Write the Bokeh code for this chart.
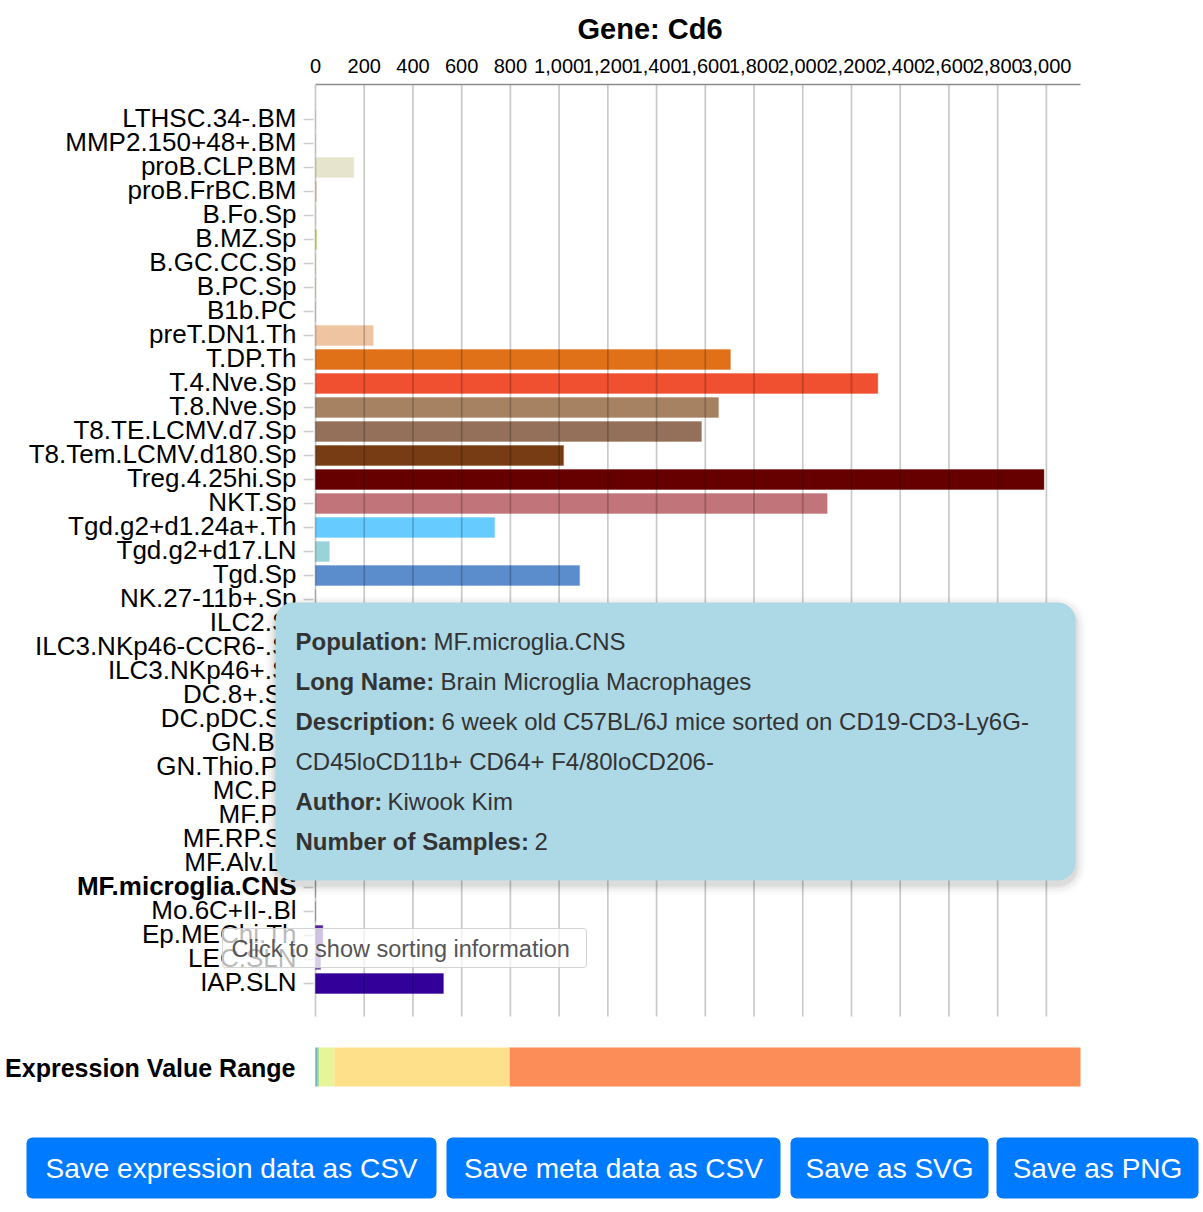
from bokeh.plotting import figure
from bokeh.models import (Range1d, FixedTicker, NumeralTickFormatter, BoxAnnotation,
                          Label, ColumnDataSource)
from bokeh.core.properties import value
from bokeh.embed import file_html
from bokeh.resources import INLINE

# ---------------- data ----------------
gene = "Cd6"
populations = [
    "LTHSC.34-.BM", "MMP2.150+48+.BM", "proB.CLP.BM", "proB.FrBC.BM", "B.Fo.Sp",
    "B.MZ.Sp", "B.GC.CC.Sp", "B.PC.Sp", "B1b.PC", "preT.DN1.Th", "T.DP.Th",
    "T.4.Nve.Sp", "T.8.Nve.Sp", "T8.TE.LCMV.d7.Sp", "T8.Tem.LCMV.d180.Sp",
    "Treg.4.25hi.Sp", "NKT.Sp", "Tgd.g2+d1.24a+.Th", "Tgd.g2+d17.LN", "Tgd.Sp",
    "NK.27-11b+.Sp", "ILC2.SI", "ILC3.NKp46-CCR6-.SI", "ILC3.NKp46+.SI", "DC.8+.Sp",
    "DC.pDC.Sp", "GN.BM", "GN.Thio.PC", "MC.PC", "MF.PC", "MF.RP.Sp", "MF.Alv.Lu",
    "MF.microglia.CNS", "Mo.6C+II-.Bl", "Ep.MEChi.Th", "LEC.SLN", "IAP.SLN",
]
values = [
    0, 0, 157, 4, 0,
    4, 0, 0, 0, 237, 1703,
    2308, 1654, 1584, 1018,
    2990, 2100, 735, 57, 1084,
    0, 0, 0, 0, 0,
    0, 0, 0, 0, 0, 0, 0,
    0, 0, 30, 21, 525,
]
bar_colors = [
    "#d9d9c0", "#d9d0c0", "#e6e4cc", "#e8cfae", "#d8e49c",
    "#c6df74", "#b8d66a", "#a8c85e", "#98bd55", "#efc4a0", "#e07119",
    "#f04f30", "#a68262", "#94705a", "#783c14",
    "#660000", "#c17479", "#66ccff", "#99d3da", "#5b8ccb",
    "#4f7fbf", "#4a77b4", "#456fa8", "#40679c", "#f6c24f",
    "#f1b442", "#d6604d", "#c34a3c", "#b2182b", "#8e6c8a", "#7d5d7a", "#6d4e6b",
    "#5c3f5c", "#4d3450", "#55259c", "#7657ac", "#330099",
]
highlight = "MF.microglia.CNS"

x_ticks = list(range(0, 3001, 200))
x_max = 3140

range_edges = [0, 5, 14, 77, 797, 3140]
range_colors = ["#3288bd", "#99d594", "#e6f598", "#fee08b", "#fc8d59"]

tooltip_rows = [
    ("Population:", "MF.microglia.CNS"),
    ("Long Name:", "Brain Microglia Macrophages"),
    ("Description:", "6 week old C57BL/6J mice sorted on CD19-CD3-Ly6G-"),
    ("", "CD45loCD11b+ CD64+ F4/80loCD206-"),
    ("Author:", "Kiwook Kim"),
    ("Number of Samples:", "2"),
]
buttons = ["Save expression data as CSV", "Save meta data as CSV", "Save as SVG", "Save as PNG"]

# ---------------- layout constants (pixels) ----------------
FONT = "Liberation Sans"
W, H = 1200, 1210
ZERO_PX, MAX_PX = 315, 1080        # x pixel of value 0 and of x_max
TOP_PX = 84                        # top axis line
ROW0_PX, ROW = 119, 24.0           # first row centre, row pitch
XS = (MAX_PX - ZERO_PX) / x_max


def px(xpage):
    return (xpage - ZERO_PX) / XS


def py(ypage):
    return (ypage - ROW0_PX) / ROW


n = len(populations)
ypos = list(range(n))

p = figure(width=W, height=H, x_axis_location="above",
           x_range=Range1d(px(0), px(W)), y_range=Range1d(py(H), py(TOP_PX)),
           output_backend="svg", toolbar_location=None,
           min_border_left=0, min_border_right=0, min_border_top=TOP_PX, min_border_bottom=0)
p.outline_line_color = None
p.grid.visible = False
p.yaxis.visible = False

# title
p.title.text = "Gene: " + gene
p.title.text_font = FONT
p.title.text_font_size = "29px"
p.title.text_font_style = "bold"
p.title.text_color = "black"
p.title.align = "left"
p.title.offset = 577
p.title.standoff = 18
p.title.vertical_align = "top"

# top axis
p.xaxis.ticker = FixedTicker(ticks=x_ticks)
p.xaxis.formatter = NumeralTickFormatter(format="0,0")
p.xaxis.bounds = (0, x_max)
p.xaxis.major_label_text_font = FONT
p.xaxis.major_label_text_font_size = "20px"
p.xaxis.major_label_text_color = "black"
p.xaxis.axis_line_color = "#8c8c8c"
p.xaxis.axis_line_width = 1.3
p.xaxis.major_tick_out = 0
p.xaxis.major_tick_in = 0
p.xaxis.minor_tick_line_color = None
p.xaxis.major_label_standoff = 12

# bars
src = ColumnDataSource(dict(y=ypos, value=values, color=bar_colors))
p.hbar(y="y", left=0, right="value", height=20 / ROW, source=src,
       fill_color="color", fill_alpha=1.0, line_color="color", line_alpha=0.35,
       line_width=1.2)

# vertical grid lines (drawn over bars, translucent)
p.segment(x0=x_ticks, x1=x_ticks, y0=py(TOP_PX), y1=py(1016),
          line_color="black", line_alpha=0.21, line_width=1.7)

# category ticks and labels
p.segment(x0=px(303), x1=px(313), y0=ypos, y1=ypos,
          line_color="black", line_alpha=0.2, line_width=1.6)
lab_src = ColumnDataSource(dict(
    x=[0] * n, y=ypos, text=populations,
    style=["bold" if s == highlight else "normal" for s in populations]))
p.text(x="x", y="y", text="text", source=lab_src, x_offset=-19, y_offset=-1.5,
       text_align="right", text_baseline="middle", text_font=value(FONT),
       text_font_size="26px", text_font_style="style", text_color="black")

# expression value range bar
p.quad(left=range_edges[:-1], right=range_edges[1:], top=py(1047), bottom=py(1086),
       fill_color=range_colors, line_color=None)
p.text(x=[0], y=[py(1067)], text=["Expression Value Range"], x_offset=-20,
       text_align="right", text_baseline="middle", text_font=value(FONT),
       text_font_size="25px", text_font_style="bold", text_color="black")

# tooltip (shadow + box + text)
for k, a in [(10, 0.02), (7, 0.03), (4, 0.04), (2, 0.05)]:
    p.add_layout(BoxAnnotation(left=px(275 - k), right=px(1075 + k),
                               top=py(602 - k + 4), bottom=py(880 + k + 4),
                               fill_color="black", fill_alpha=a, line_color=None,
                               border_radius=18 + k))
p.add_layout(BoxAnnotation(left=px(275), right=px(1075), top=py(602), bottom=py(880),
                           fill_color="#add8e6", fill_alpha=1.0, line_color=None,
                           border_radius=18))
value_x = [433, 440, 441, 295, 387, 534]
for j, (lab, txt) in enumerate(tooltip_rows):
    yy = py(641 + 40 * j)
    if lab:
        p.add_layout(Label(x=px(295), y=yy, text=lab, text_align="left",
                           text_baseline="middle", text_font=FONT, text_font_size="24px",
                           text_font_style="bold", text_color="#333333"))
    p.add_layout(Label(x=px(value_x[j]), y=yy, text=txt, text_align="left",
                       text_baseline="middle", text_font=FONT, text_font_size="24px",
                       text_color="#333333"))

# "click to show sorting" hint
p.add_layout(BoxAnnotation(left=px(222), right=px(586), top=py(928), bottom=py(967),
                           fill_color="white", fill_alpha=0.72, line_color="#cfcfcf",
                           line_alpha=0.9, line_width=1, border_radius=3))
p.add_layout(Label(x=px(231), y=py(948), text="Click to show sorting information",
                   text_align="left", text_baseline="middle", text_font=FONT,
                   text_font_size="23.5px", text_color="#555555"))

# buttons
btn_edges = [(26, 436), (446, 780), (790, 988), (996, 1198)]
for (l, r), txt in zip(btn_edges, buttons):
    p.add_layout(BoxAnnotation(left=px(l), right=px(r), top=py(1137), bottom=py(1198),
                               fill_color="#007bff", fill_alpha=1.0, line_color=None,
                               border_radius=6))
    p.add_layout(Label(x=px((l + r) / 2), y=py(1168), text=txt, text_align="center",
                       text_baseline="middle", text_font=FONT, text_font_size="28px",
                       text_color="white"))

open("out.html", "w").write(file_html(p, INLINE))
